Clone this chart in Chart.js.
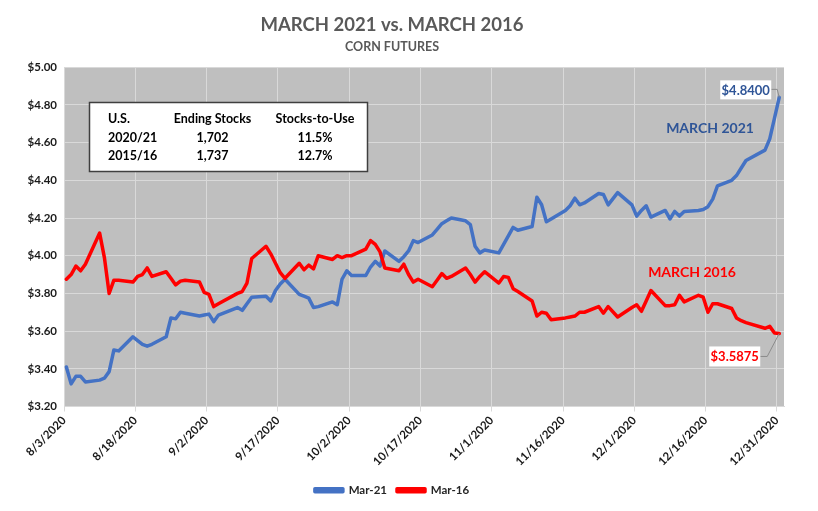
<!DOCTYPE html>
<html>
<head>
<meta charset="utf-8">
<script src="https://cdn.jsdelivr.net/npm/chart.js@4.4.1/dist/chart.umd.min.js"></script>
<style>
  html, body { margin: 0; padding: 0; background: #fff; }
  #wrap { width: 818px; height: 511px; }
</style>
</head>
<body>
<div id="wrap"><canvas id="chart" width="818" height="511"></canvas></div>
<script>
// 横轴按日历天数 (从 8/3/2020 起算)
const tickDays = [0, 15, 30, 45, 60, 75, 90, 105, 120, 135, 150];
const tickLabels = ['8/3/2020', '8/18/2020', '9/2/2020', '9/17/2020', '10/2/2020', '10/17/2020',
  '11/1/2020', '11/16/2020', '12/1/2020', '12/16/2020', '12/31/2020'];

// 交易日
const tradeDates = [
  '8/3', '8/4', '8/5', '8/6', '8/7', '8/10', '8/11', '8/12', '8/13', '8/14', '8/17', '8/18', '8/19', '8/20', '8/21',
  '8/24', '8/25', '8/26', '8/27', '8/28', '8/31',
  '9/1', '9/2', '9/3', '9/4', '9/8', '9/9', '9/10', '9/11', '9/14', '9/15', '9/16', '9/17', '9/18',
  '9/21', '9/22', '9/23', '9/24', '9/25', '9/28', '9/29', '9/30',
  '10/1', '10/2', '10/5', '10/6', '10/7', '10/8', '10/9', '10/12', '10/13', '10/14', '10/15', '10/16',
  '10/19', '10/20', '10/21', '10/22', '10/23', '10/26', '10/27', '10/28', '10/29', '10/30',
  '11/2', '11/3', '11/4', '11/5', '11/6', '11/9', '11/10', '11/11', '11/12', '11/13',
  '11/16', '11/17', '11/18', '11/19', '11/20', '11/23', '11/24', '11/25', '11/27', '11/30',
  '12/1', '12/2', '12/3', '12/4', '12/7', '12/8', '12/9', '12/10', '12/11',
  '12/14', '12/15', '12/16', '12/17', '12/18', '12/21', '12/22', '12/23', '12/24', '12/28', '12/29', '12/30', '12/31'
];

// March 2021 corn futures
const mar21Values = [
  3.41, 3.32, 3.36, 3.36, 3.33, 3.34, 3.35, 3.385, 3.50, 3.495, 3.57, 3.55, 3.53, 3.52, 3.53,
  3.57, 3.67, 3.665, 3.70, 3.695, 3.68,
  3.685, 3.69, 3.65, 3.685, 3.725, 3.71, 3.745, 3.78, 3.785, 3.76, 3.815, 3.85, 3.875,
  3.795, 3.785, 3.775, 3.725, 3.73, 3.755, 3.74, 3.875,
  3.92, 3.895, 3.895, 3.94, 3.97, 3.945, 4.025, 3.97, 3.995, 4.025, 4.08, 4.07,
  4.11, 4.14, 4.17, 4.185, 4.20, 4.185, 4.165, 4.05, 4.015, 4.03,
  4.015, 4.06, 4.105, 4.15, 4.135, 4.155, 4.31, 4.27, 4.18, 4.195,
  4.24, 4.265, 4.305, 4.27, 4.28, 4.33, 4.325, 4.27, 4.335, 4.27,
  4.21, 4.24, 4.265, 4.205, 4.24, 4.195, 4.235, 4.21, 4.235,
  4.24, 4.245, 4.26, 4.30, 4.37, 4.40, 4.425, 4.465, 4.505, 4.56, 4.62, 4.73, 4.84
];

// March 2016 corn futures (same calendar window)
const mar16Values = [
  3.875, 3.90, 3.945, 3.92, 3.955, 4.12, 3.99, 3.80, 3.87, 3.87, 3.86, 3.89, 3.90, 3.935, 3.89,
  3.915, 3.88, 3.845, 3.865, 3.87, 3.86,
  3.805, 3.795, 3.73, 3.745, 3.80, 3.81, 3.855, 3.985, 4.05, 4.01, 3.96, 3.91, 3.88,
  3.96, 3.925, 3.95, 3.93, 4.00, 3.98, 4.00, 3.99,
  4.00, 4.00, 4.035, 4.08, 4.06, 4.02, 3.935, 3.92, 3.955, 3.90, 3.86, 3.875,
  3.835, 3.87, 3.905, 3.88, 3.89, 3.935, 3.90, 3.86, 3.89, 3.915,
  3.855, 3.89, 3.885, 3.825, 3.81, 3.76, 3.68, 3.70, 3.695, 3.66,
  3.67, 3.675, 3.68, 3.70, 3.70, 3.73, 3.695, 3.73, 3.675, 3.725,
  3.74, 3.705, 3.76, 3.815, 3.735, 3.735, 3.74, 3.79, 3.755,
  3.79, 3.78, 3.70, 3.745, 3.745, 3.72, 3.67, 3.655, 3.645, 3.615, 3.625, 3.59, 3.5875
];

const yTicks = [3.2, 3.4, 3.6, 3.8, 4.0, 4.2, 4.4, 4.6, 4.8, 5.0];

// 表格文本框
const tableHeader = ['U.S.', 'Ending Stocks', 'Stocks-to-Use'];
const tableRows = [
  ['2020/21', '1,702', '11.5%'],
  ['2015/16', '1,737', '12.7%']
];

const FONT = 'Lato, "Open Sans", sans-serif';
const BLUE = '#4472C4';
const RED = '#FF0000';

// 日期 -> 距 8/3/2020 的天数
function dayIndex(md) {
  const [m, d] = md.split('/').map(Number);
  return (Date.UTC(2020, m - 1, d) - Date.UTC(2020, 7, 3)) / 86400000;
}

// Excel 日期轴把点画在当天区间的中间
function toPoints(values) {
  return tradeDates.map((md, i) => ({ x: dayIndex(md) + 0.5, y: values[i] }));
}

// 绘图区灰色背景
const plotBackground = {
  id: 'plotBackground',
  beforeDraw(chart) {
    const { ctx, chartArea: a } = chart;
    ctx.save();
    ctx.fillStyle = '#BFBFBF';
    ctx.fillRect(a.left, a.top, a.right - a.left, a.bottom - a.top);
    ctx.restore();
  }
};

// 文本框、系列名称、末值标签
const annotations = {
  id: 'annotations',
  afterDatasetsDraw(chart) {
    const ctx = chart.ctx;
    ctx.save();

    // 表格
    ctx.fillStyle = '#fff';
    ctx.fillRect(89.5, 102.5, 278, 69);
    ctx.strokeStyle = '#3f3f3f';
    ctx.lineWidth = 1.5;
    ctx.strokeRect(89.5, 102.5, 278, 69);

    ctx.fillStyle = '#000';
    ctx.font = 'bold 12.5px ' + FONT;
    ctx.textBaseline = 'middle';
    const colX = [108, 212.5, 315];
    const rowY = [119, 137.5, 156];
    [tableHeader, ...tableRows].forEach((row, r) => {
      row.forEach((txt, c) => {
        ctx.textAlign = c === 0 ? 'left' : 'center';
        ctx.fillText(txt, colX[c], rowY[r]);
      });
    });

    // 系列名称
    ctx.font = 'bold 14px ' + FONT;
    ctx.textAlign = 'center';
    ctx.fillStyle = '#2F5597';
    ctx.fillText('MARCH 2021', 710, 128);
    ctx.fillStyle = RED;
    ctx.fillText('MARCH 2016', 692, 272);

    // 末值标签
    const last21 = chart.getDatasetMeta(0).data.at(-1);
    const last16 = chart.getDatasetMeta(1).data.at(-1);
    const lbl21 = '$' + mar21Values.at(-1).toFixed(4);
    const lbl16 = '$' + mar16Values.at(-1).toFixed(4);

    ctx.strokeStyle = '#8c8c8c';
    ctx.lineWidth = 1;
    // $4.8400
    let bx = last21.x - 59, by = last21.y - 17;
    ctx.beginPath();
    ctx.moveTo(bx + 51, by + 9);
    ctx.lineTo(last21.x - 2, by + 9);
    ctx.lineTo(last21.x, last21.y);
    ctx.stroke();
    ctx.fillStyle = '#fff';
    ctx.fillRect(bx, by, 51, 19);
    ctx.font = 'bold 13px ' + FONT;
    ctx.fillStyle = '#2F5597';
    ctx.fillText(lbl21, bx + 25.5, by + 10);

    // $3.5875
    bx = last16.x - 70; by = last16.y + 13;
    ctx.beginPath();
    ctx.moveTo(bx + 51, by + 10);
    ctx.lineTo(bx + 58, by + 10);
    ctx.lineTo(last16.x, last16.y);
    ctx.stroke();
    ctx.fillStyle = '#fff';
    ctx.fillRect(bx, by, 51, 20);
    ctx.fillStyle = RED;
    ctx.fillText(lbl16, bx + 25.5, by + 10.5);

    ctx.restore();
  }
};

const tickFont = { family: FONT, size: 11.5, weight: 'bold' };

new Chart(document.getElementById('chart'), {
  type: 'line',
  data: {
    datasets: [
      {
        label: 'Mar-21',
        data: toPoints(mar21Values),
        borderColor: BLUE,
        backgroundColor: BLUE,
        borderWidth: 3.5,
        pointRadius: 0,
        tension: 0,
        borderJoinStyle: 'round',
        borderCapStyle: 'round',
        order: 1
      },
      {
        label: 'Mar-16',
        data: toPoints(mar16Values),
        borderColor: RED,
        backgroundColor: RED,
        borderWidth: 3.5,
        pointRadius: 0,
        tension: 0,
        borderJoinStyle: 'round',
        borderCapStyle: 'round',
        order: 0
      }
    ]
  },
  options: {
    responsive: false,
    animation: false,
    devicePixelRatio: 1,
    layout: { padding: { left: 0, right: 34, top: 0, bottom: 5 } },
    plugins: {
      title: {
        display: true,
        text: 'MARCH 2021 vs. MARCH 2016',
        color: '#595959',
        font: { family: FONT, size: 18.5, weight: 'bold' },
        padding: { top: 14, bottom: 0 }
      },
      subtitle: {
        display: true,
        text: 'CORN FUTURES',
        color: '#595959',
        font: { family: FONT, size: 12.5, weight: 'bold' },
        padding: { top: 3, bottom: 13 }
      },
      legend: {
        position: 'bottom',
        labels: {
          boxWidth: 28,
          boxHeight: 3,
          padding: 10,
          color: '#262626',
          font: tickFont,
          sort: (a, b) => a.datasetIndex - b.datasetIndex
        }
      },
      tooltip: { enabled: false }
    },
    scales: {
      x: {
        type: 'linear',
        min: 0,
        max: 151.5,
        afterBuildTicks: (scale) => { scale.ticks = tickDays.map(v => ({ value: v })); },
        afterFit: (scale) => { scale.height = 68; },
        ticks: {
          autoSkip: false,
          minRotation: 45,
          maxRotation: 45,
          color: '#1a1a1a',
          font: tickFont,
          padding: 2,
          callback: (v, i) => tickLabels[i]
        },
        grid: { color: '#D9D9D9', lineWidth: 1, tickLength: 5, tickColor: '#D9D9D9' },
        border: { color: '#D9D9D9' }
      },
      y: {
        min: 3.2,
        max: 5.0,
        afterBuildTicks: (scale) => { scale.ticks = yTicks.map(v => ({ value: v })); },
        afterFit: (scale) => { scale.width = 64; },
        ticks: {
          color: '#1a1a1a',
          font: tickFont,
          padding: 7,
          callback: (v) => '$' + v.toFixed(2)
        },
        grid: { color: '#D9D9D9', lineWidth: 1, drawTicks: false },
        border: { display: false }
      }
    }
  },
  plugins: [plotBackground, annotations]
});
</script>
</body>
</html>
